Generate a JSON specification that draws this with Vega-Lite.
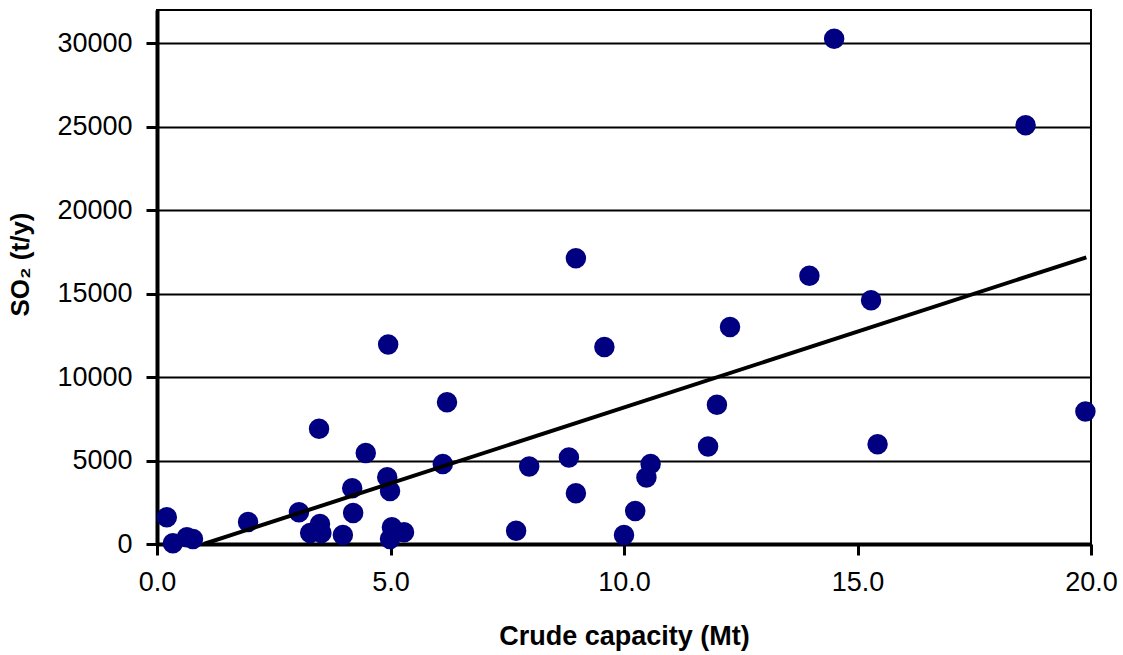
{
  "$schema": "https://vega.github.io/schema/vega-lite/v6.json",
  "width": 934,
  "height": 534,
  "autosize": "none",
  "padding": {"left": 157, "top": 10, "right": 32, "bottom": 111},
  "background": "white",
  "config": {
    "view": {"stroke": "black", "strokeWidth": 2},
    "font": "Liberation Sans"
  },
  "datasets": {
    "points": [
      {"capacity": 0.21, "so2": 1600},
      {"capacity": 0.34, "so2": 50},
      {"capacity": 0.64, "so2": 400},
      {"capacity": 0.77, "so2": 300},
      {"capacity": 1.95, "so2": 1320},
      {"capacity": 3.04, "so2": 1900},
      {"capacity": 3.28, "so2": 660},
      {"capacity": 3.47, "so2": 6900},
      {"capacity": 3.49, "so2": 1200},
      {"capacity": 3.52, "so2": 660},
      {"capacity": 3.98, "so2": 540},
      {"capacity": 4.18, "so2": 3340},
      {"capacity": 4.2, "so2": 1860},
      {"capacity": 4.47, "so2": 5460},
      {"capacity": 4.95, "so2": 11950},
      {"capacity": 4.93, "so2": 4000},
      {"capacity": 4.99, "so2": 3180},
      {"capacity": 5.03, "so2": 1000},
      {"capacity": 4.99, "so2": 300},
      {"capacity": 5.29, "so2": 700},
      {"capacity": 6.12, "so2": 4800},
      {"capacity": 6.21, "so2": 8500},
      {"capacity": 7.69, "so2": 800},
      {"capacity": 7.97, "so2": 4640},
      {"capacity": 8.82, "so2": 5180},
      {"capacity": 8.97, "so2": 3040},
      {"capacity": 8.97, "so2": 17120},
      {"capacity": 9.58, "so2": 11800},
      {"capacity": 10.0, "so2": 540},
      {"capacity": 10.24, "so2": 1980},
      {"capacity": 10.48, "so2": 3980},
      {"capacity": 10.57, "so2": 4800},
      {"capacity": 11.8, "so2": 5840},
      {"capacity": 11.99, "so2": 8340},
      {"capacity": 12.27, "so2": 13000},
      {"capacity": 13.97, "so2": 16080},
      {"capacity": 14.5, "so2": 30280},
      {"capacity": 15.29, "so2": 14600},
      {"capacity": 15.43, "so2": 5980},
      {"capacity": 18.6, "so2": 25100},
      {"capacity": 19.88, "so2": 7940}
    ],
    "trend": [
      {"capacity": 1.0, "so2": 0},
      {"capacity": 19.9, "so2": 17180}
    ]
  },
  "layer": [
    {
      "data": {"name": "points"},
      "mark": {"type": "circle", "size": 420, "color": "#000080", "opacity": 1},
      "encoding": {
        "x": {
          "field": "capacity", "type": "quantitative",
          "scale": {"domain": [0, 20], "nice": false, "zero": false},
          "axis": {
            "values": [0, 5, 10, 15, 20], "format": ".1f", "grid": false,
            "domainColor": "black", "domainWidth": 4,
            "tickColor": "black", "tickWidth": 3, "tickSize": 11,
            "labelFontSize": 27, "labelColor": "black", "labelPadding": 14, "labelFlush": false,
            "title": "Crude capacity (Mt)", "titleFontSize": 27, "titleFontWeight": "bold",
            "titleColor": "black", "titleBaseline": "middle", "titleY": 92
          }
        },
        "y": {
          "field": "so2", "type": "quantitative",
          "scale": {"domain": [0, 32000], "nice": false},
          "axis": {
            "values": [0, 5000, 10000, 15000, 20000, 25000, 30000], "format": "d",
            "grid": true, "gridColor": "black", "gridWidth": 2, "gridOpacity": 1,
            "domainColor": "black", "domainWidth": 4,
            "tickColor": "black", "tickWidth": 3, "tickSize": 11,
            "labelFontSize": 27, "labelColor": "black", "labelPadding": 14,
            "title": "SO₂ (t/y)", "titleFontSize": 26, "titleFontWeight": "bold",
            "titleColor": "black", "titleX": -137, "titleY": 254,
            "titleAlign": "center", "titleBaseline": "middle", "titleAngle": -90
          }
        }
      }
    },
    {
      "data": {"name": "trend"},
      "mark": {"type": "line", "color": "black", "strokeWidth": 4},
      "encoding": {
        "x": {"field": "capacity", "type": "quantitative"},
        "y": {"field": "so2", "type": "quantitative"}
      }
    }
  ]
}
